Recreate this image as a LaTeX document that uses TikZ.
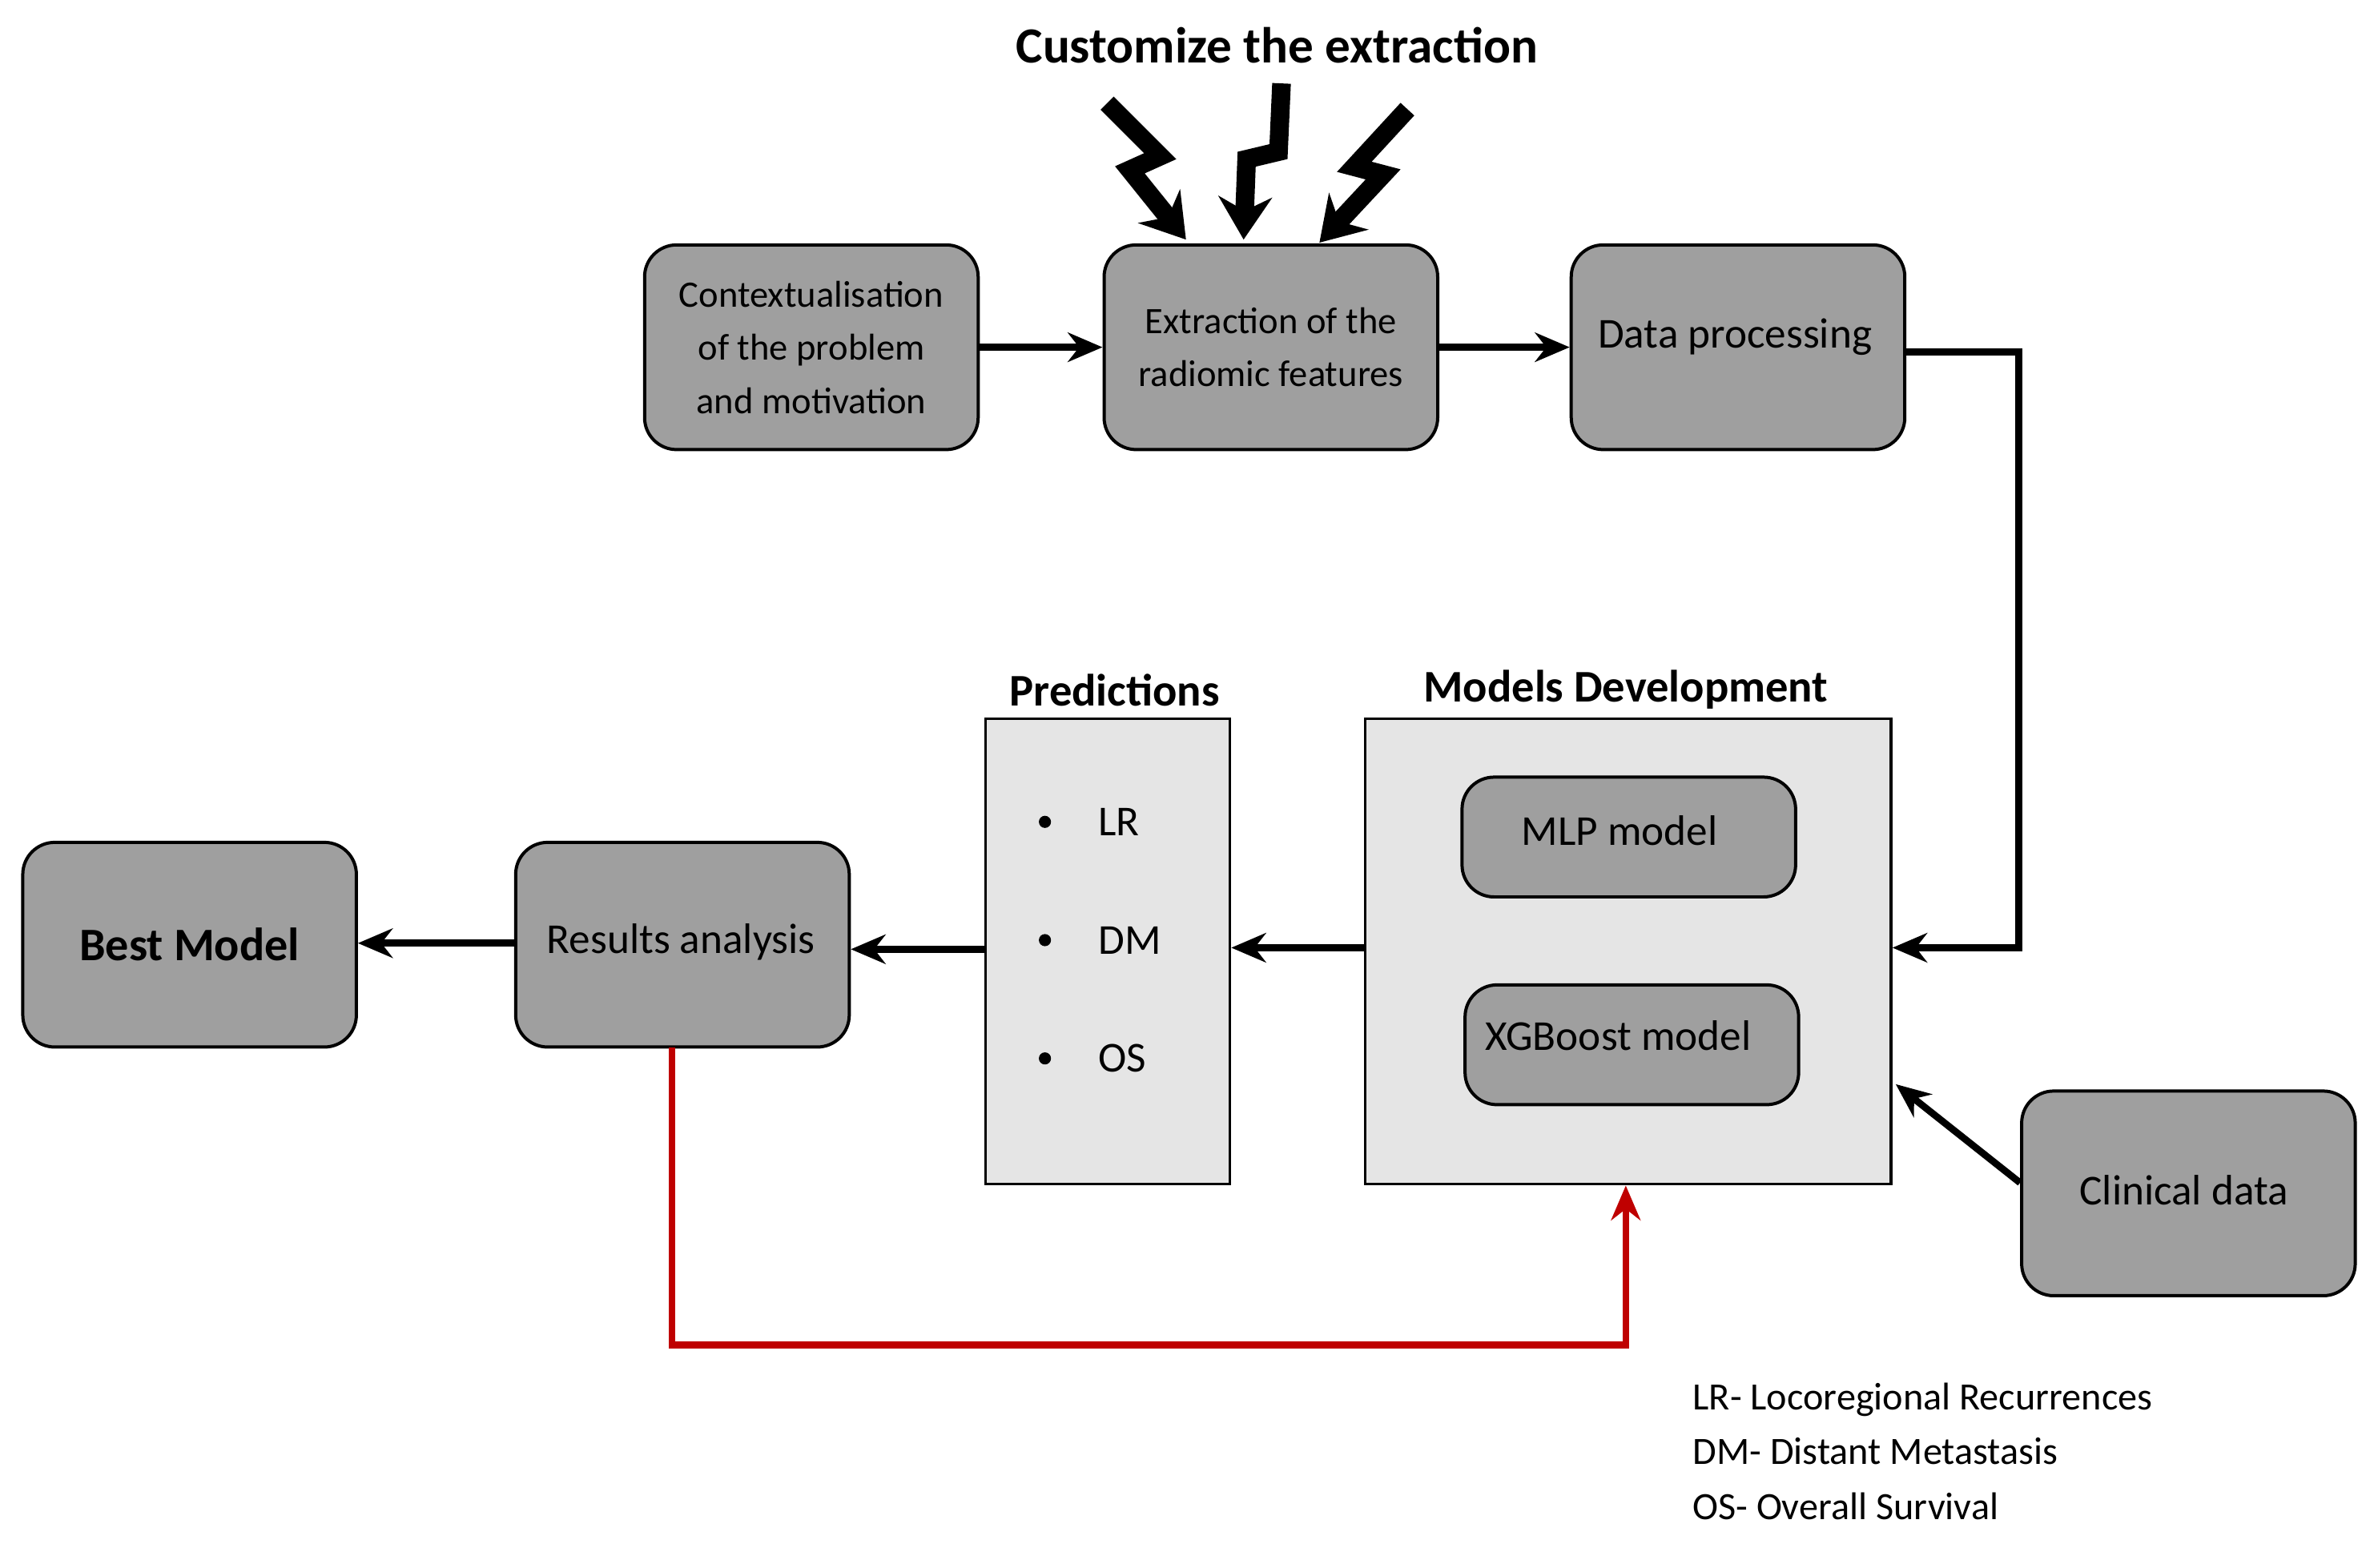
\documentclass[tikz,border=0pt]{standalone}
\usepackage{fontspec}
\setmainfont{Carlito}
\usetikzlibrary{arrows.meta}
\begin{document}
\begin{tikzpicture}[x=0.02cm,y=-0.02cm,
  box/.style={draw=black,line width=1.2pt,fill=gray!75,rounded corners=12pt,minimum width=4.4cm,minimum height=2.7cm},
  lbl/.style={align=center,font=\fontsize{16}{20}\selectfont},
  pane/.style={draw=black,line width=1pt,fill=gray!20},
  arr/.style={line width=2.6pt,-{Stealth[length=13pt,width=11pt]}},
  zz/.style={line width=7pt,-{Stealth[length=16pt,width=20pt]}},
  ttl/.style={font=\bfseries\fontsize{17}{22}\selectfont}]
\useasboundingbox (0,0) rectangle (1568,1034);
\node[box] (ctx) at (535,229) {};
\node[lbl,font=\fontsize{14}{20}\selectfont] at (ctx) {Contextualisation\\of the problem\\and motivation};
\node[box] (ext) at (838,229) {};
\node[lbl,font=\fontsize{14}{20}\selectfont] at (ext.center) {Extraction of the\\radiomic features};
\node[box] (dp) at (1146,229) {};
\node[lbl] at (1144,222) {Data processing};
\node[box] (best) at (125,623) {};
\node[lbl,font=\bfseries\fontsize{17.5}{20}\selectfont] at (best) {Best Model};
\node[box] (res) at (450,623) {};
\node[lbl] at (449,621) {Results analysis};
\node[pane,minimum width=3.22cm,minimum height=6.14cm] (pred) at (730.5,627.5) {};
\node[ttl] (predt) at (735,455) {Predictions};
\node[pane,minimum width=6.94cm,minimum height=6.14cm] (mod) at (1073.5,627.5) {};
\node[ttl] (modt) at (1072,455) {Models Development};
\node[box,minimum height=1.58cm] (mlp) at (1074,552) {};
\node[lbl] at (1068,548) {MLP model};
\node[box,minimum height=1.58cm] (xgb) at (1076,689) {};
\node[lbl] at (1067,683) {XGBoost model};
\node[box] (cli) at (1443,787) {};
\node[lbl] at (1440,785) {Clinical data};
\foreach \t/\y in {LR/542,DM/620,OS/698}{
  \fill (689,\y) circle (4);
  \node[anchor=west,lbl] at (718,\y) {\t};}
\node[font=\bfseries\fontsize{19}{22}\selectfont] (cust) at (842,30) {Customize the extraction};
\node[anchor=north west,align=left,font=\fontsize{14.5}{20.5}\selectfont] (leg) at (1110,906) {LR- Locoregional Recurrences\\DM- Distant Metastasis\\OS- Overall Survival};
\draw[arr] (ctx) -- (ext);
\draw[arr] (ext) -- (dp);
\draw[arr] (dp.east |- 0,232) -- (1331,232) -- (1331,625) -- (mod.east |- 0,625);
\draw[arr] (cli.west |- 0,780) -- (1250,715);
\draw[arr] (mod.west |- 0,625) -- (pred.east |- 0,625);
\draw[arr] (pred.west |- 0,626) -- (res.east |- 0,626);
\draw[arr] (res.west |- 0,622) -- (best.east |- 0,622);
\draw[arr,red!75!black] (443,691) -- (443,887) -- (1072,887) -- (mod.south -| 1072,0);
\draw[zz] (730,68) -- (765,103) -- (745,112) -- (782,158);
\draw[zz] (845,55) -- (843,100) -- (822,105) -- (820,158);
\draw[zz] (928,72) -- (893,110) -- (912,115) -- (870,160);
\end{tikzpicture}
\end{document}
